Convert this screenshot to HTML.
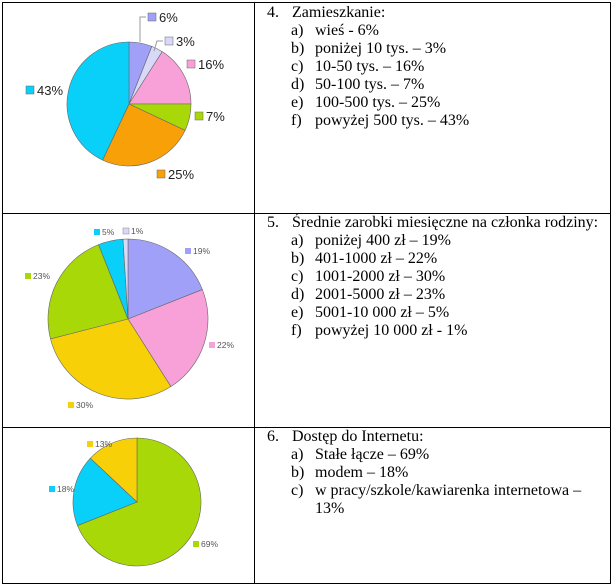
<!DOCTYPE html>
<html><head><meta charset="utf-8"><style>
body{margin:0;background:#fff;width:613px;height:586px;overflow:hidden;position:relative}
svg{position:absolute;left:0;top:0}
.t{position:absolute;font-family:"Liberation Serif",serif;font-size:16px;color:#000;white-space:nowrap;line-height:18px}
</style></head><body>
<svg width="613" height="586" id="s">
<g stroke="#000" stroke-width="1" fill="none">
<rect x="2.5" y="2.5" width="608" height="581"/>
<line x1="254.5" y1="2" x2="254.5" y2="584"/>
<line x1="2" y1="213.5" x2="611" y2="213.5"/>
<line x1="2" y1="427.5" x2="611" y2="427.5"/>
</g>
<g id="pies"></g>
<g stroke="#999" fill="none">
<polyline points="146,17 140,17 140,42"/>
<polyline points="163,41 157,41 154,51"/>
</g>
<g font-family="Liberation Sans,sans-serif" font-size="13" fill="#222">
<rect x="148" y="13" width="8" height="8" fill="#a0a0f8" stroke="#666" stroke-width=".5"/><text x="159" y="22">6%</text>
<rect x="165" y="37" width="8" height="8" fill="#d8d8f8" stroke="#666" stroke-width=".5"/><text x="176" y="46">3%</text>
<rect x="187" y="60" width="8" height="8" fill="#f8a0d8" stroke="#666" stroke-width=".5"/><text x="198" y="69">16%</text>
<rect x="195" y="112" width="8" height="8" fill="#a8d808" stroke="#666" stroke-width=".5"/><text x="206" y="121">7%</text>
<rect x="157" y="170" width="8" height="8" fill="#f8a008" stroke="#666" stroke-width=".5"/><text x="168" y="179">25%</text>
<rect x="26" y="86" width="8" height="8" fill="#08d0f8" stroke="#666" stroke-width=".5"/><text x="37" y="95">43%</text>
</g>
<g font-family="Liberation Sans,sans-serif" font-size="8.5" fill="#555">
<rect x="94" y="229" width="6" height="6" fill="#08d0f8"/><text x="102" y="235">5%</text>
<rect x="123" y="228" width="6" height="6" fill="#d8d8f8" stroke="#888" stroke-width=".5"/><text x="131" y="234">1%</text>
<rect x="185" y="248" width="6" height="6" fill="#a0a0f8"/><text x="193" y="254">19%</text>
<rect x="209" y="342" width="6" height="6" fill="#f8a0d8"/><text x="217" y="348">22%</text>
<rect x="68" y="402" width="6" height="6" fill="#f8d008"/><text x="76" y="408">30%</text>
<rect x="25" y="273" width="6" height="6" fill="#a8d808"/><text x="33" y="279">23%</text>
<rect x="87" y="441" width="6" height="6" fill="#f8d008"/><text x="95" y="447">13%</text>
<rect x="49" y="486" width="6" height="6" fill="#08d0f8"/><text x="57" y="492">18%</text>
<rect x="193" y="541" width="6" height="6" fill="#a8d808"/><text x="201" y="547">69%</text>
</g>
</svg>
<script>
function pie(cx,cy,r,data){var g=document.getElementById('pies'),a=0,tot=0;data.forEach(d=>tot+=d[0]);
data.forEach(d=>{var a2=a+d[0]/tot*2*Math.PI;var x1=cx+r*Math.sin(a),y1=cy-r*Math.cos(a),x2=cx+r*Math.sin(a2),y2=cy-r*Math.cos(a2);
var p=document.createElementNS('http://www.w3.org/2000/svg','path');
p.setAttribute('d','M'+cx+','+cy+'L'+x1+','+y1+'A'+r+','+r+' 0 '+((a2-a)>Math.PI?1:0)+' 1 '+x2+','+y2+'Z');
p.setAttribute('fill',d[1]);p.setAttribute('stroke','#666');p.setAttribute('stroke-width','0.6');g.appendChild(p);a=a2;});}
pie(129,104,62,[[6,'#a0a0f8'],[3,'#d8d8f8'],[16,'#f8a0d8'],[7,'#a8d808'],[25,'#f8a008'],[43,'#08d0f8']]);
pie(128,319,80,[[19,'#a0a0f8'],[22,'#f8a0d8'],[30,'#f8d008'],[23,'#a8d808'],[5,'#08d0f8'],[1,'#d8d8f8']]);
pie(137,502,64,[[69,'#a8d808'],[18,'#08d0f8'],[13,'#f8d008']]);
</script>
<div class="t" style="left:267px;top:4px">4.</div><div class="t" style="left:292px;top:4px">Zamieszkanie:</div>
<div class="t" style="left:291px;top:22px">a)</div><div class="t" style="left:315px;top:22px">wieś - 6%</div>
<div class="t" style="left:291px;top:40px">b)</div><div class="t" style="left:315px;top:40px">poniżej 10 tys. – 3%</div>
<div class="t" style="left:291px;top:58px">c)</div><div class="t" style="left:315px;top:58px">10-50 tys. – 16%</div>
<div class="t" style="left:291px;top:76px">d)</div><div class="t" style="left:315px;top:76px">50-100 tys. – 7%</div>
<div class="t" style="left:291px;top:94px">e)</div><div class="t" style="left:315px;top:94px">100-500 tys. – 25%</div>
<div class="t" style="left:291px;top:112px">f)</div><div class="t" style="left:315px;top:112px">powyżej 500 tys. – 43%</div>

<div class="t" style="left:267px;top:214px">5.</div><div class="t" style="left:292px;top:214px">Średnie zarobki miesięczne na członka rodziny:</div>
<div class="t" style="left:291px;top:232px">a)</div><div class="t" style="left:315px;top:232px">poniżej 400 zł – 19%</div>
<div class="t" style="left:291px;top:250px">b)</div><div class="t" style="left:315px;top:250px">401-1000 zł – 22%</div>
<div class="t" style="left:291px;top:268px">c)</div><div class="t" style="left:315px;top:268px">1001-2000 zł – 30%</div>
<div class="t" style="left:291px;top:286px">d)</div><div class="t" style="left:315px;top:286px">2001-5000 zł – 23%</div>
<div class="t" style="left:291px;top:304px">e)</div><div class="t" style="left:315px;top:304px">5001-10 000 zł – 5%</div>
<div class="t" style="left:291px;top:322px">f)</div><div class="t" style="left:315px;top:322px">powyżej 10 000 zł - 1%</div>

<div class="t" style="left:267px;top:428px">6.</div><div class="t" style="left:292px;top:428px">Dostęp do Internetu:</div>
<div class="t" style="left:291px;top:446px">a)</div><div class="t" style="left:315px;top:446px">Stałe łącze – 69%</div>
<div class="t" style="left:291px;top:464px">b)</div><div class="t" style="left:315px;top:464px">modem – 18%</div>
<div class="t" style="left:291px;top:482px">c)</div><div class="t" style="left:315px;top:482px">w pracy/szkole/kawiarenka internetowa –</div>
<div class="t" style="left:315px;top:500px">13%</div>
</body></html>
